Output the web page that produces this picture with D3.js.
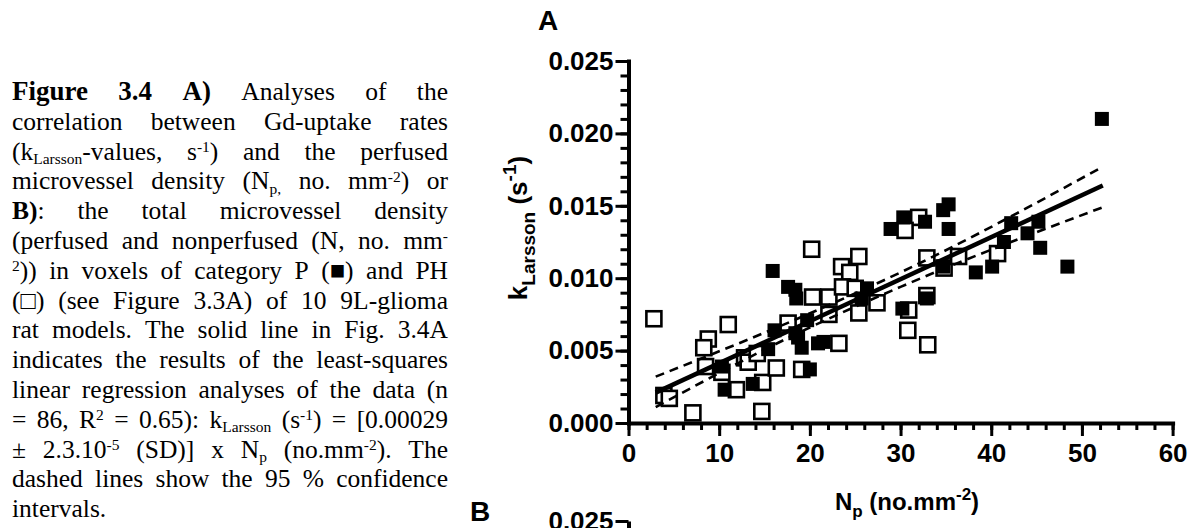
<!DOCTYPE html>
<html>
<head>
<meta charset="utf-8">
<script src="https://cdn.jsdelivr.net/npm/d3@7"></script>
<style>
body{margin:0;background:#fff;}
</style>
</head>
<body>
<div id="chart"></div>
<script>
// category P (filled squares): [Np, kLarsson]
var pointsP = [
	[52.2,0.0210],[48.4,0.0108],[45.4,0.0121],[45.2,0.0139],[44.0,0.0131],
	[42.2,0.0138],[41.4,0.0125],[40.1,0.0108],[38.3,0.0104],[34.7,0.0108],
	[35.3,0.0151],[34.7,0.0147],[35.3,0.0134],[32.7,0.0139],[30.3,0.0142],
	[28.9,0.0134],[32.9,0.0086],[30.2,0.0079],[26.3,0.0093],[25.7,0.0086],
	[15.9,0.0105],[17.6,0.0094],[18.4,0.0092],[18.5,0.0086],[18.7,0.0059],
	[19.1,0.0052],[20.9,0.0055],[21.5,0.0056],[20.0,0.0037],[19.7,0.0071],
	[18.4,0.0062],[16.1,0.0064],[15.4,0.0051],[13.7,0.0027],[10.6,0.0023],
	[10.3,0.0039]
];
// category PH (open squares)
var pointsPH = [
	[2.8,0.0072],[3.9,0.0019],[4.5,0.0017],[7.1,0.0007],[8.8,0.0058],
	[8.3,0.0052],[8.5,0.0039],[10.3,0.0035],[11.0,0.0068],[11.9,0.0023],
	[12.8,0.0045],[13.2,0.0042],[14.2,0.0048],[14.8,0.0028],[14.7,0.0008],
	[16.3,0.0038],[17.6,0.0069],[19.1,0.0037],[20.2,0.0120],[20.3,0.0087],
	[22.1,0.0087],[22.1,0.0075],[23.2,0.0055],[23.5,0.0108],[24.4,0.0104],
	[25.4,0.0115],[23.6,0.0094],[25.0,0.0093],[27.4,0.0083],[25.4,0.0076],
	[30.9,0.0078],[30.8,0.0064],[33.0,0.0054],[32.9,0.0088],[32.9,0.0114],
	[32.0,0.0142],[30.5,0.0133],[34.8,0.0107],[36.4,0.0115],[40.7,0.0117]
];
// regression line and 95% confidence band
var fitLine = [[3,0.0021],[52.3,0.0164]];
var ciUpper = [[3,0.0032],[19,0.0073],[30,0.0104],[52.3,0.0177]];
var ciLower = [[3,0.0011],[19,0.0063],[30,0.0094],[52.3,0.0149]];

var xTicks = [0,10,20,30,40,50,60];
var yTicks = [0,0.005,0.010,0.015,0.020,0.025];

// caption: each line is a list of [text, style]
var captionLines = [
	[["Figure 3.4 A)","big"],[" Analyses of the",""]],
	[["correlation between Gd-uptake rates",""]],
	[["(k",""],["Larsson","sub"],["-values, s",""],["-1","sup"],[") and the perfused",""]],
	[["microvessel density (N",""],["p,","sub"],[" no. mm",""],["-2","sup"],[") or",""]],
	[["B)","b"],[": the total microvessel density",""]],
	[["(perfused and nonperfused (N, no. mm",""],["-","sup"]],
	[["2","sup"],[")) in voxels of category P (\u25A0) and PH",""]],
	[["(\u25A1) (see Figure 3.3A) of 10 9L-glioma",""]],
	[["rat models. The solid line in Fig. 3.4A",""]],
	[["indicates the results of the least-squares",""]],
	[["linear regression analyses of the data (n",""]],
	[["= 86, R",""],["2","sup"],[" = 0.65): k",""],["Larsson","sub"],[" (s",""],["-1","sup"],[") = [0.00029",""]],
	[["\u00B1 2.3.10",""],["-5","sup"],[" (SD)] x N",""],["p","sub"],[" (no.mm",""],["-2","sup"],["). The",""]],
	[["dashed lines show the 95 % confidence",""]],
	[["intervals.",""]]
];

function splitWords(segs){
	var words = [], cur = [];
	segs.forEach(function(s){
		s[0].split(" ").forEach(function(p, i){
			if(i > 0){
				if(cur.length) words.push(cur);
				cur = [];
			}
			if(p.length) cur.push([p, s[1]]);
		});
	});
	if(cur.length) words.push(cur);
	return words;
}

function addRich(text, segs, small, subK, supK){
	var off = 0;
	segs.forEach(function(s){
		var sh = s[1] == "sub" ? small * subK : (s[1] == "sup" ? -small * supK : 0);
		var ts = text.append("tspan").text(s[0]).attr("dy", sh - off);
		off = sh;
		if(s[1] == "sub" || s[1] == "sup") ts.attr("font-size", small);
		if(s[1] == "b") ts.attr("font-weight", "bold");
		if(s[1] == "big") ts.attr("font-weight", "bold").attr("font-size", 27);
	});
}

function init(){
	var w = 1200;
	var h = 528;

	var svg = d3.select("#chart")
				.append("svg")
				.attr("width", w)
				.attr("height", h)
				.style("font-family", "'Liberation Sans', Arial, sans-serif");

	// ---- caption ----
	var cap = svg.append("g")
				.style("font-family", "'Liberation Serif', 'Times New Roman', serif")
				.attr("font-size", 25.5);
	var left = 12, right = 448, base0 = 100, lineH = 29.8;
	captionLines.forEach(function(line, li){
		var words = splitWords(line);
		var yb = base0 + li * lineH;
		var nodes = words.map(function(wd){
			var t = cap.append("text").attr("y", yb);
			addRich(t, wd, 15.5, 0.3, 0.5);
			return t;
		});
		var widths = nodes.map(function(t){ return t.node().getComputedTextLength(); });
		var total = d3.sum(widths);
		var gap = 6.4;
		if(li < captionLines.length - 1 && words.length > 1){
			gap = Math.max(3, (right - left - total) / (words.length - 1));
		}
		var pos = left;
		nodes.forEach(function(t, i){
			t.attr("x", pos);
			pos += widths[i] + gap;
		});
	});

	// ---- panel A ----
	var x = d3.scaleLinear().domain([0, 60]).range([628.5, 1172.6]);
	var y = d3.scaleLinear().domain([0, 0.025]).range([423, 61]);

	svg.append("text")
		.attr("x", 538)
		.attr("y", 30)
		.attr("font-size", 28)
		.attr("font-weight", "bold")
		.text("A");

	// minor ticks
	svg.append("g")
		.attr("transform", "translate(" + x(0) + ",0)")
		.call(d3.axisLeft(y).ticks(25).tickSize(8).tickSizeOuter(0).tickFormat(""))
		.call(function(g){ g.select(".domain").remove(); })
		.selectAll(".tick line").attr("stroke-width", 3);
	svg.append("g")
		.attr("transform", "translate(0," + y(0) + ")")
		.call(d3.axisBottom(x).ticks(30).tickSize(7).tickSizeOuter(0).tickFormat(""))
		.call(function(g){ g.select(".domain").remove(); })
		.selectAll(".tick line").attr("stroke-width", 3);

	// major axes
	var yAxis = svg.append("g")
		.attr("transform", "translate(" + x(0) + ",0)")
		.call(d3.axisLeft(y).tickValues(yTicks).tickSize(13).tickSizeOuter(0).tickPadding(2)
			.tickFormat(d3.format(".3f")));
	var xAxis = svg.append("g")
		.attr("transform", "translate(0," + y(0) + ")")
		.call(d3.axisBottom(x).tickValues(xTicks).tickSize(13).tickSizeOuter(0).tickPadding(8));

	[yAxis, xAxis].forEach(function(g){
		g.select(".domain").attr("stroke-width", 4).attr("stroke-linecap", "square");
		g.selectAll(".tick line").attr("stroke-width", 3);
		g.selectAll(".tick text")
			.attr("font-size", 26)
			.attr("font-weight", "bold")
			.attr("fill", "#000")
			.style("font-family", "'Liberation Sans', Arial, sans-serif");
	});

	// axis titles
	var yt = svg.append("text")
		.attr("transform", "translate(527,228) rotate(-90)")
		.attr("text-anchor", "middle")
		.attr("font-size", 26)
		.attr("font-weight", "bold");
	addRich(yt, [["k",""],["Larsson","sub"],[" (s",""],["-1","sup"],[")",""]], 19, 0.4, 0.6);

	var xt = svg.append("text")
		.attr("x", 907)
		.attr("y", 510)
		.attr("text-anchor", "middle")
		.attr("font-size", 24)
		.attr("font-weight", "bold");
	addRich(xt, [["N",""],["p","sub"],[" (no.mm",""],["-2","sup"],[")",""]], 17, 0.4, 0.6);

	// points
	var sOpen = 15, sFill = 14;
	svg.append("g").selectAll("rect")
		.data(pointsPH)
		.enter()
		.append("rect")
		.attr("x", function(d){ return x(d[0]) - sOpen / 2; })
		.attr("y", function(d){ return y(d[1]) - sOpen / 2; })
		.attr("width", sOpen)
		.attr("height", sOpen)
		.attr("fill", "#fff")
		.attr("stroke", "#000")
		.attr("stroke-width", 2.6);

	svg.append("g").selectAll("rect")
		.data(pointsP)
		.enter()
		.append("rect")
		.attr("x", function(d){ return x(d[0]) - sFill / 2; })
		.attr("y", function(d){ return y(d[1]) - sFill / 2; })
		.attr("width", sFill)
		.attr("height", sFill)
		.attr("fill", "#000");

	// regression lines
	var line = d3.line()
				.x(function(d){ return x(d[0]); })
				.y(function(d){ return y(d[1]); })
				.curve(d3.curveMonotoneX);

	svg.append("path")
		.attr("d", line(fitLine))
		.attr("fill", "none")
		.attr("stroke", "#000")
		.attr("stroke-width", 4.5);

	[ciUpper, ciLower].forEach(function(c){
		svg.append("path")
			.attr("d", line(c))
			.attr("fill", "none")
			.attr("stroke", "#000")
			.attr("stroke-width", 2.6)
			.attr("stroke-dasharray", "9,6");
	});

	// ---- panel B (cut off at the bottom) ----
	svg.append("text")
		.attr("x", 470)
		.attr("y", 521)
		.attr("font-size", 28)
		.attr("font-weight", "bold")
		.text("B");

	var yB = d3.scaleLinear().domain([0, 0.025]).range([883, 521]);
	var bAxis = svg.append("g")
		.attr("transform", "translate(" + x(0) + ",0)")
		.call(d3.axisLeft(yB).tickValues([0.025]).tickSize(13).tickSizeOuter(0).tickPadding(2)
			.tickFormat(d3.format(".3f")));
	bAxis.select(".domain").attr("stroke-width", 4);
	bAxis.selectAll(".tick line").attr("stroke-width", 3);
	bAxis.selectAll(".tick text")
		.attr("font-size", 26)
		.attr("font-weight", "bold")
		.attr("fill", "#000")
		.style("font-family", "'Liberation Sans', Arial, sans-serif");
}

window.onload = init;
</script>
</body>
</html>
